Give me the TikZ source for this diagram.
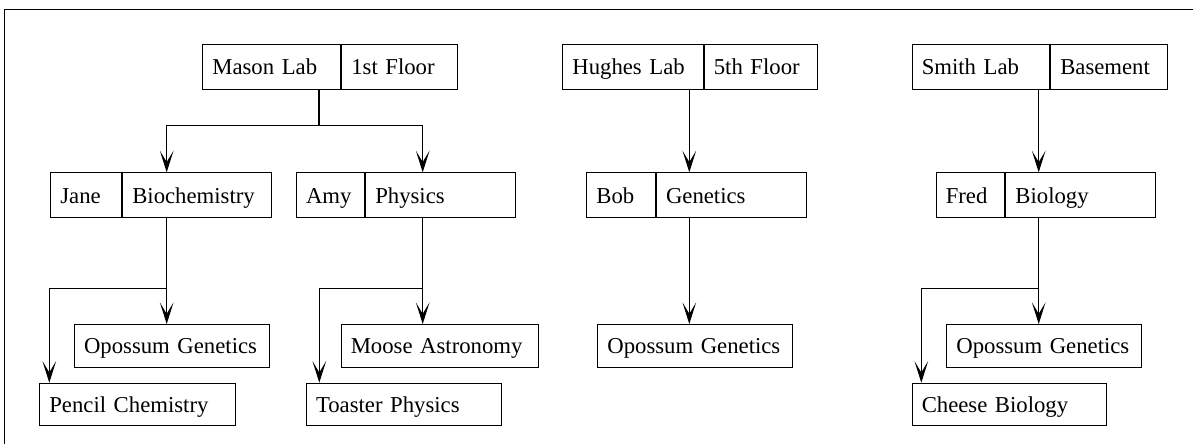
\documentclass[tikz,border=0pt]{standalone}
\usepackage{fontspec}
\setmainfont{Liberation Serif}
\usetikzlibrary{arrows.meta}

\begin{document}
\begin{tikzpicture}[
        x=0.44pt, y=-0.44pt,
        >={Stealth[length=9.5pt, width=6pt, inset=5pt]},
        every node/.style={font=\normalsize},
        cell/.style={draw, line width=0.45pt, anchor=north west, align=left,
            inner xsep=4.2pt, inner ysep=0pt, text height=8pt, text depth=1pt},
        tall/.style={cell, minimum height=19.8pt},
        short/.style={cell, minimum height=18.8pt},
        link/.style={line width=0.45pt},
        arrow/.style={link, ->}
    ]
    \useasboundingbox (0,0) rectangle (1193,444);
    \draw[link] (4.3,444) -- (4.3,9.3) -- (1193,9.3);

    % labs
    \node[tall, text width=52.3pt] (mason) at (202.3,44) {Mason Lab};
    \node[tall, text width=42.5pt] (masonfl) at (mason.north east) {1st Floor};
    \node[tall, text width=53.4pt] (hughes) at (562.3,44) {Hughes Lab};
    \node[tall, text width=41.5pt] (hughesfl) at (hughes.north east) {5th Floor};
    \node[tall, text width=52.1pt] (smith) at (911.7,44) {Smith Lab};
    \node[tall, text width=42.8pt] (smithfl) at (smith.north east) {Basement};

    % people
    \node[tall, text width=22.8pt] (jane) at (50.3,172.3) {Jane};
    \node[tall, text width=56.9pt] (janedep) at (jane.north east) {Biochemistry};
    \node[tall, text width=21.6pt] (amy) at (296,172.3) {Amy};
    \node[tall, text width=57.6pt] (amydep) at (amy.north east) {Physics};
    \node[tall, text width=21.8pt] (bob) at (586.3,172.3) {Bob};
    \node[tall, text width=57.7pt] (bobdep) at (bob.north east) {Genetics};
    \node[tall, text width=21.8pt] (fred) at (935.7,172.3) {Fred};
    \node[tall, text width=57.6pt] (freddep) at (fred.north east) {Biology};

    % projects
    \node[short, text width=77.5pt] (opoJ) at (74,324) {Opossum Genetics};
    \node[short, text width=78.5pt] (moose) at (340.7,324) {Moose Astronomy};
    \node[short, text width=77.3pt] (opoB) at (597.3,324) {Opossum Genetics};
    \node[short, text width=77.4pt] (opoF) at (946.3,324) {Opossum Genetics};
    \node[short, text width=77.6pt] (pencil) at (39.3,382.7) {Pencil Chemistry};
    \node[short, text width=77.5pt] (toaster) at (306,382.7) {Toaster Physics};
    \node[short, text width=77.2pt] (cheese) at (911.7,382.7) {Cheese Biology};

    % forks
    \coordinate (mfork) at (319,125.7);
    \coordinate (mforkL) at (166.7,125.7);
    \coordinate (mforkR) at (422.7,125.7);
    \coordinate (jfork) at (166.7,288.3);
    \coordinate (jforkL) at (49.3,288.3);
    \coordinate (afork) at (422.7,288.3);
    \coordinate (aforkL) at (319.3,288.3);
    \coordinate (hline) at (689.3,130);
    \coordinate (ffork) at (1038.7,288.3);
    \coordinate (fforkL) at (921.3,288.3);

    \draw[link] (mfork |- mason.south) -- (mfork);
    \draw[arrow] (mfork) -- (mforkL) -- (mforkL |- jane.north);
    \draw[arrow] (mfork) -- (mforkR) -- (mforkR |- amydep.north);

    \draw[arrow] (jfork |- janedep.south) -- (jfork |- opoJ.north);
    \draw[arrow] (jfork) -- (jforkL) -- (jforkL |- pencil.north);
    \draw[arrow] (afork |- amydep.south) -- (afork |- moose.north);
    \draw[arrow] (afork) -- (aforkL) -- (aforkL |- toaster.north);

    \draw[arrow] (hline |- hughes.south) -- (hline |- bobdep.north);
    \draw[arrow] (hline |- bobdep.south) -- (hline |- opoB.north);

    \draw[arrow] (ffork |- smith.south) -- (ffork |- freddep.north);
    \draw[arrow] (ffork |- freddep.south) -- (ffork |- opoF.north);
    \draw[arrow] (ffork) -- (fforkL) -- (fforkL |- cheese.north);
\end{tikzpicture}
\end{document}
